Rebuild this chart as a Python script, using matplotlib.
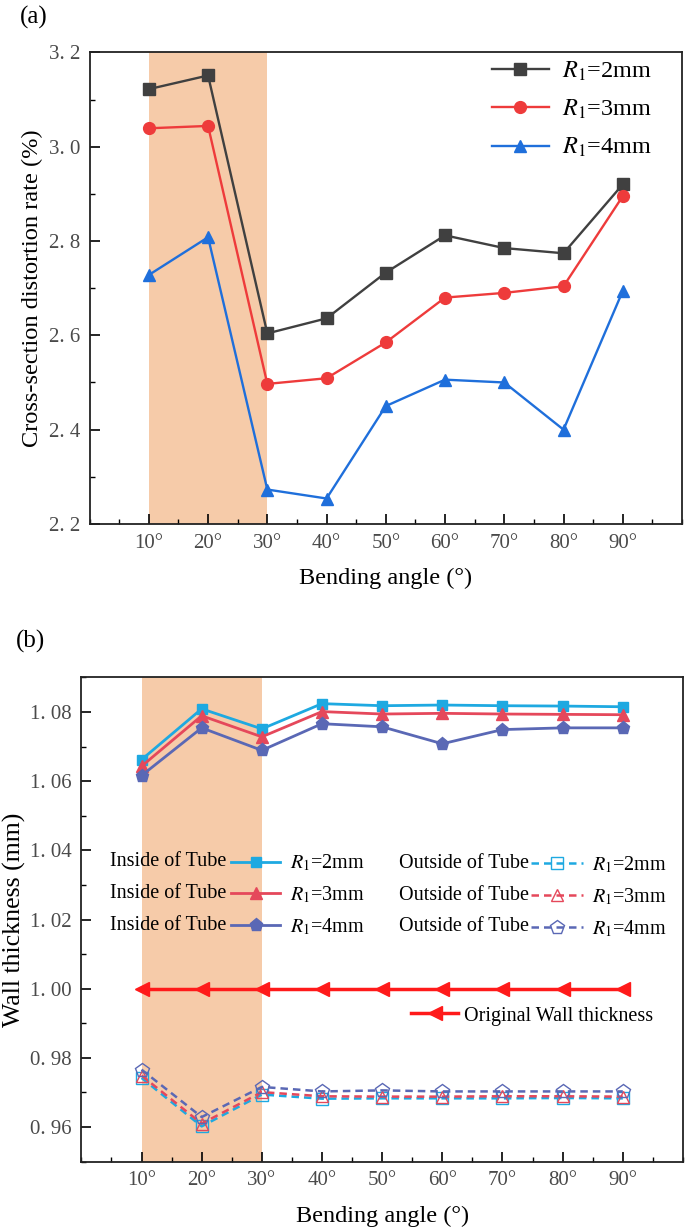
import numpy as np
import matplotlib
matplotlib.use('Agg')
import matplotlib.pyplot as plt
from matplotlib.ticker import MultipleLocator, FuncFormatter, FixedLocator

plt.rcParams['font.family'] = ['Liberation Serif', 'DejaVu Serif']
plt.rcParams['mathtext.fontset'] = 'stix'

# bending angles (deg)
angles = [10, 20, 30, 40, 50, 60, 70, 80, 90]
angle_labels = ['10°', '20°', '30°', '40°', '50°', '60°', '70°', '80°', '90°']

# (a) cross-section distortion rate (%)
dist_r2 = [3.122, 3.151, 2.604, 2.636, 2.733, 2.812, 2.785, 2.774, 2.920]
dist_r3 = [3.039, 3.044, 2.497, 2.509, 2.585, 2.680, 2.690, 2.704, 2.895]
dist_r4 = [2.728, 2.808, 2.273, 2.254, 2.450, 2.506, 2.500, 2.400, 2.694]

# (b) wall thickness (mm)
in_r2 = [1.0662, 1.0809, 1.0751, 1.0824, 1.0818, 1.0820, 1.0818, 1.0817, 1.0815]
in_r3 = [1.0643, 1.0789, 1.0728, 1.0801, 1.0794, 1.0796, 1.0794, 1.0793, 1.0792]
in_r4 = [1.0616, 1.0754, 1.0689, 1.0766, 1.0757, 1.0708, 1.0749, 1.0754, 1.0754]
out_r2 = [0.9742, 0.9602, 0.9694, 0.9682, 0.9683, 0.9683, 0.9683, 0.9684, 0.9683]
out_r3 = [0.9749, 0.9610, 0.9701, 0.9689, 0.9688, 0.9688, 0.9689, 0.9689, 0.9688]
out_r4 = [0.9766, 0.9629, 0.9716, 0.9703, 0.9706, 0.9703, 0.9703, 0.9703, 0.9703]
original = [1.0, 1.0, 1.0, 1.0, 1.0, 1.0, 1.0, 1.0, 1.0]

shade_span = (10, 30)
shade_col = '#F6CBA9'
r_labels = [r'$R_1$=2mm', r'$R_1$=3mm', r'$R_1$=4mm']


def dotted_fmt(v, p):
    # mimic the wide-period tick font of the original
    if abs(v) < 2:
        return ('%.2f' % v).replace('.', '. ')
    return ('%.1f' % v).replace('.', '. ')


def style_axes(ax, ymajor, yminor):
    ax.set_xlim(0, 100)
    ax.xaxis.set_major_locator(FixedLocator(angles))
    ax.set_xticklabels(angle_labels)
    ax.xaxis.set_minor_locator(MultipleLocator(5))
    ax.yaxis.set_major_locator(MultipleLocator(ymajor))
    ax.yaxis.set_minor_locator(MultipleLocator(yminor))
    ax.yaxis.set_major_formatter(FuncFormatter(dotted_fmt))
    ax.tick_params(which='both', direction='in', top=False, right=False)
    ax.tick_params(which='major', length=7, width=1.2, labelsize=15,
                   labelcolor='#4a4a4a', pad=7)
    ax.tick_params(which='minor', length=3.5, width=1.0)
    for s in ax.spines.values():
        s.set_linewidth(1.3)
        s.set_color('#222222')
    ax.axvspan(shade_span[0], shade_span[1], color=shade_col, lw=0, zorder=0)


fig = plt.figure(figsize=(6.85, 12.32), dpi=100)

# ---------------- (a)
ax1 = fig.add_axes([0.1308, 0.5747, 0.8648, 0.3828])
style_axes(ax1, 0.2, 0.1)
ax1.set_ylim(2.2, 3.2)
ax1.plot(angles, dist_r2, '-s', color='#404040', lw=1.7, ms=8, label=r_labels[0])
ax1.plot(angles, dist_r3, '-o', color='#EE3B3B', lw=1.7, ms=8.5, label=r_labels[1])
ax1.plot(angles, dist_r4, '-^', color='#1F6FDB', lw=1.7, ms=9, label=r_labels[2])
ax1.legend(loc='center left', bbox_to_anchor=(0.679, 0.879), frameon=False,
           fontsize=17.5, borderpad=0, borderaxespad=0, handlelength=2.35,
           handletextpad=0.55, labelspacing=0.62)
ax1.set_ylabel('Cross-section distortion rate (%)', fontsize=17.6)
ax1.set_xlabel('Bending angle (°)', fontsize=17.5)
ax1.yaxis.set_label_coords(-0.097, 0.5)
ax1.yaxis.label.set_verticalalignment('center')
ax1.xaxis.set_label_coords(0.5, -0.1145)
ax1.xaxis.label.set_verticalalignment('center')
fig.text(20 / 685, 1 - 17 / 1232, '(a)', fontsize=18, va='center')

# ---------------- (b)
ax2 = fig.add_axes([0.1188, 0.0571, 0.8782, 0.3931])
style_axes(ax2, 0.02, 0.01)
ax2.set_ylim(0.95, 1.09)

c2, c3, c4 = '#1EA9E1', '#E5485B', '#5A68B5'
h_in = [
    ax2.plot(angles, in_r2, '-s', color=c2, lw=2, ms=7.5, label=r_labels[0])[0],
    ax2.plot(angles, in_r3, '-^', color=c3, lw=2, ms=9, label=r_labels[1])[0],
    ax2.plot(angles, in_r4, '-p', color=c4, lw=2, ms=9.5, label=r_labels[2])[0],
]
h_out = [
    ax2.plot(angles, out_r2, 's', ls=(0, (3, 2)), color=c2, lw=1.8, ms=8,
             mfc='none', mew=1.0, label=r_labels[0])[0],
    ax2.plot(angles, out_r3, '^', ls=(0, (3, 2)), color=c3, lw=1.8, ms=9,
             mfc='none', mew=1.0, label=r_labels[1])[0],
    ax2.plot(angles, out_r4, 'p', ls=(0, (3, 2)), color=c4, lw=1.8, ms=10,
             mfc='none', mew=1.0, label=r_labels[2])[0],
]
h_orig = ax2.plot(angles, original, '-<', color='#FF1A1A', lw=2.5, ms=10,
                  label='Original Wall thickness')[0]

leg_in = ax2.legend(handles=h_in, loc='center left', bbox_to_anchor=(0.2487, 0.5506),
                    frameon=False, fontsize=14.5, borderpad=0, borderaxespad=0,
                    handlelength=2.45, handletextpad=0.5, labelspacing=0.55)
ax2.add_artist(leg_in)
leg_out = ax2.legend(handles=h_out, loc='center left', bbox_to_anchor=(0.7473, 0.547),
                     frameon=False, fontsize=14.5, borderpad=0, borderaxespad=0,
                     handlelength=2.6, handletextpad=0.45, labelspacing=0.55)
ax2.add_artist(leg_out)
leg_orig = ax2.legend(handles=[h_orig], loc='center left', bbox_to_anchor=(0.548, 0.3008),
                      frameon=False, fontsize=14.5, borderpad=0, borderaxespad=0,
                      handlelength=2.35, handletextpad=0.3)

ax2.set_ylabel('Wall thickness (mm)', fontsize=18.6)
ax2.set_xlabel('Bending angle (°)', fontsize=17.5)
ax2.yaxis.set_label_coords(-0.112, 0.5)
ax2.yaxis.label.set_verticalalignment('center')
ax2.xaxis.set_label_coords(0.5, -0.1135)
ax2.xaxis.label.set_verticalalignment('center')
fig.text(16 / 685, 1 - 641 / 1232, '(b)', fontsize=18, va='center')

# put the "Inside/Outside of Tube" words in front of each legend handle
fig.canvas.draw()
W, H = fig.bbox.width, fig.bbox.height
for leg, word, gap in [(leg_in, 'Inside of Tube', 5), (leg_out, 'Outside of Tube', 2)]:
    for h in leg.legend_handles:
        pts = h.get_transform().transform(np.column_stack([h.get_xdata(), h.get_ydata()]))
        x0 = pts[:, 0].min()
        yc = pts[:, 1].mean()
        fig.text((x0 - gap) / W, yc / H, word, ha='right', va='center', fontsize=14.5)

fig.savefig('out.png', dpi=100)
